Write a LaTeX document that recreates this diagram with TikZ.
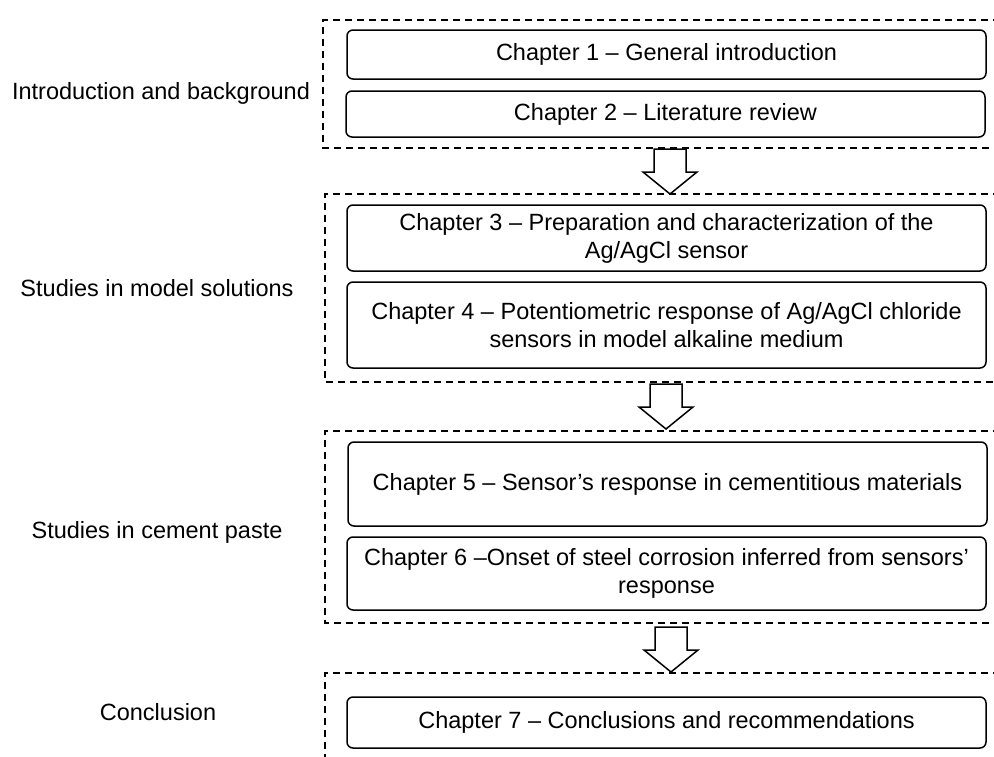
\documentclass[tikz,border=0pt]{standalone}
\usepackage{fontspec}
\setmainfont{Liberation Sans}
\begin{document}
\begin{tikzpicture}[x=1pt,y=-1pt,
  chapbox/.style={draw, rounded corners=6pt, line width=1.5pt, align=center, inner sep=0pt,
    minimum width=639pt, font=\fontsize{23.5}{28}\selectfont},
  sidelabel/.style={font=\fontsize{23.5}{28}\selectfont, inner sep=0pt},
  groupline/.style={line width=1.4pt, dash pattern=on 7pt off 5pt},
  arrowline/.style={draw, line width=1.5pt, fill=white, line join=miter},
  downarrow/.pic={\path[arrowline] (-16,0) -- (-16,23) -- (-27,23) -- (0,45) -- (27,23) -- (16,23) -- (16,0) -- cycle;}
]
\useasboundingbox (0,0) rectangle (994,756);
\fill[white] (0,0) rectangle (994,756);

% dashed groups
\draw[groupline] (1000,20) -- (323,20) -- (323,148) -- (1000,148);
\draw[groupline] (1000,194) -- (325,194) -- (325,382) -- (1000,382);
\draw[groupline] (1000,431) -- (325,431) -- (325,623) -- (1000,623);
\draw[groupline] (1000,673) -- (325,673) -- (325,760);

% side labels
\node[sidelabel] (l1) at (161,93) {Introduction and background};
\node[sidelabel] (l2) at (157,288) {Studies in model solutions};
\node[sidelabel] (l3) at (157,532) {Studies in cement paste};
\node[sidelabel] (l4) at (158,712) {Conclusion};

% chapter boxes
\node[chapbox, minimum height=49pt] (c1) at (666.5,54.5) {Chapter 1 – General introduction};
\node[chapbox, minimum height=46pt] (c2) at (665.5,114) {Chapter 2 – Literature review};
\node[chapbox, minimum height=66pt] (c3) at (666.5,238) {Chapter 3 – Preparation and characterization of the\\Ag/AgCl sensor};
\node[chapbox, minimum height=86pt] (c4) at (666.5,325) {Chapter 4 – Potentiometric response of Ag/AgCl chloride\\sensors in model alkaline medium};
\node[chapbox, minimum height=84pt] (c5) at (667.5,484) {Chapter 5 – Sensor’s response in cementitious materials};
\node[chapbox, minimum height=73pt] (c6) at (666.5,573.5) {Chapter 6 –Onset of steel corrosion inferred from sensors’\\response};
\node[chapbox, minimum height=51pt] (c7) at (666.5,722.5) {Chapter 7 – Conclusions and recommendations};

% block arrows
\pic at (670,149) {downarrow};
\pic at (666,384) {downarrow};
\pic at (671,627) {downarrow};
\end{tikzpicture}
\end{document}
